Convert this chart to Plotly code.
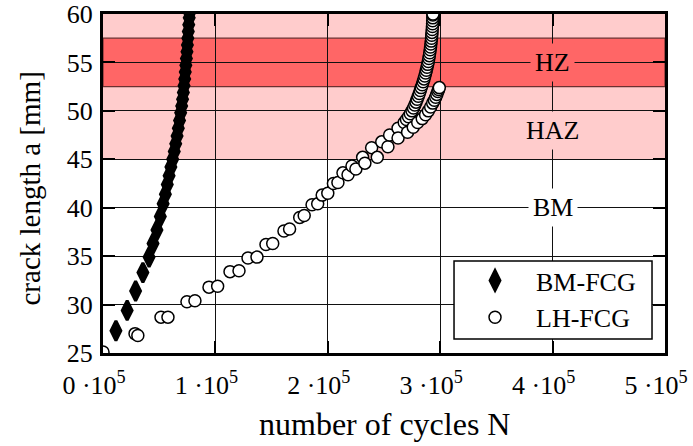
import plotly.graph_objects as go

# ---------------- data ----------------
bm_cycles = [11500, 21500, 29000, 35500, 41000, 44500, 48000, 51000, 53500, 55500,
             57200, 58800, 60400, 62000, 63400, 64700, 65900, 67000, 68100, 69100,
             70000, 70800, 71500, 72100, 72700, 73200, 73700, 74200, 74700, 75100,
             75500, 75900, 76300, 76700, 77000]
bm_crack = [27.3, 29.4, 31.4, 33.3, 34.9, 36.3, 37.7, 39.1, 40.4, 41.4,
            42.4, 43.3, 44.2, 45.0, 45.8, 46.6, 47.4, 48.2, 49.0, 49.8,
            50.5, 51.2, 51.9, 52.6, 53.3, 54.0, 54.7, 55.4, 56.1, 56.8,
            57.5, 58.2, 58.9, 59.6, 60.1]

lh_cycles = [0, 28500, 31000, 51600, 57800, 74700, 81800, 94300, 102000, 113000,
             121000, 129000, 137000, 145000, 151000, 161000, 166000, 175000, 179000, 186000,
             191000, 195000, 200000, 205000, 209000, 213500, 218000, 221500, 225000, 231000,
             233000, 239000, 244000, 248000, 253500, 255000, 262500, 262500,
             # upper branch (runs to 60 mm)
             268000, 270000, 271800, 273400, 274900, 276200, 277400, 278500, 279500, 280500,
             281400, 282300, 283100, 284000, 284800, 285600, 286300, 287000, 287700, 288300,
             288900, 289400, 289900, 290300, 290700, 291100, 291400, 291700, 292000, 292300,
             292500, 292700, 292900, 293100, 293200, 293300, 293400, 293500, 293600,
             # second branch (ends near 52.4 mm)
             271000, 276000, 280000, 284000, 287000, 289500, 291500, 293300, 294800, 296000,
             297000, 297900, 298600, 299200]
lh_crack = [25.1, 27.0, 26.8, 28.7, 28.7, 30.3, 30.4, 31.8, 31.9, 33.4,
            33.5, 34.8, 34.9, 36.2, 36.3, 37.6, 37.8, 39.0, 39.2, 40.3,
            40.4, 41.3, 41.5, 42.5, 42.6, 43.6, 43.4, 44.3, 44.0, 45.2,
            44.6, 46.2, 45.2, 46.8, 46.3, 47.5, 48.2, 47.2,
            48.8, 49.1, 49.4, 49.7, 50.0, 50.3, 50.6, 50.9, 51.2, 51.5,
            51.8, 52.1, 52.4, 52.7, 53.0, 53.3, 53.6, 53.9, 54.2, 54.5,
            54.8, 55.1, 55.4, 55.7, 56.0, 56.3, 56.6, 56.9, 57.2, 57.5,
            57.8, 58.1, 58.4, 58.7, 59.0, 59.3, 59.6, 59.9, 60.0,
            47.8, 48.3, 48.8, 49.2, 49.6, 50.0, 50.4, 50.8, 51.1, 51.4,
            51.7, 52.0, 52.2, 52.4]

x_tickvals = [0, 100000, 200000, 300000, 400000, 500000]
x_ticktext = ["0\u00a0·10<sup>5</sup>", "1\u00a0·10<sup>5</sup>", "2\u00a0·10<sup>5</sup>",
              "3\u00a0·10<sup>5</sup>", "4\u00a0·10<sup>5</sup>", "5\u00a0·10<sup>5</sup>"]
y_tickvals = [25, 30, 35, 40, 45, 50, 55, 60]

zone_names = ["HZ", "HAZ", "BM"]
zone_label_y = [55, 48, 40]
zone_label_x = 400000
haz_band = [45, 60]
hz_band = [52.5, 57.5]

FONT = "Liberation Serif"
LIGHT = "#FFCCCC"
RED = "#FF6666"

fig = go.Figure()

fig.add_trace(go.Scatter(
    x=bm_cycles, y=bm_crack, mode="markers", name="BM-FCG",
    marker=dict(symbol="diamond-tall", size=14, color="black",
                line=dict(color="black", width=3)),
))
fig.add_trace(go.Scatter(
    x=lh_cycles, y=lh_crack, mode="markers", name="LH-FCG",
    marker=dict(symbol="circle", size=12, color="white",
                line=dict(color="black", width=1.5)),
))

# zone bands
fig.add_shape(type="rect", xref="paper", yref="y", x0=0, x1=1,
              y0=haz_band[0], y1=haz_band[1], fillcolor=LIGHT,
              line=dict(width=0), layer="below")
fig.add_shape(type="rect", xref="paper", yref="y", x0=0, x1=1,
              y0=hz_band[0], y1=hz_band[1], fillcolor=RED,
              line=dict(color="#6b3030", width=1.2), layer="below")

# legend frame (white box with black border behind the legend entries)
fig.add_shape(type="rect", xref="paper", yref="paper",
              x0=0.6246, x1=0.9769, y0=0.0413, y1=0.2714,
              fillcolor="white", line=dict(color="black", width=1.5), layer="above")

bgs = [RED, LIGHT, "white"]
for name, yv, bg in zip(zone_names, zone_label_y, bgs):
    fig.add_annotation(x=zone_label_x, y=yv, xref="x", yref="y", text=name,
                       showarrow=False, bgcolor=bg, borderpad=4,
                       font=dict(family=FONT, size=26, color="black"))

# axis titles
fig.add_annotation(text="number of cycles N", xref="paper", yref="paper",
                   x=0.5, y=-0.21, xanchor="center", yanchor="middle",
                   showarrow=False, font=dict(family=FONT, size=32, color="black"))
fig.add_annotation(text="crack length a [mm]", xref="paper", yref="paper",
                   x=-0.13, y=0.485, xanchor="center", yanchor="middle", textangle=-90,
                   showarrow=False, font=dict(family=FONT, size=29, color="black"))

axis_common = dict(showline=True, linecolor="black", linewidth=3, mirror="allticks",
                   ticks="inside", ticklen=12, tickwidth=2, tickcolor="black",
                   showgrid=True, gridcolor="#111111", gridwidth=1, zeroline=False,
                   automargin=False, ticklabeloverflow="allow")

fig.update_xaxes(range=[0, 500000], tickvals=x_tickvals, ticktext=x_ticktext,
                 tickfont=dict(family=FONT, size=26, color="black"),
                 ticklabelstandoff=7, ticklabelshift=-9, **axis_common)
fig.update_yaxes(range=[25, 60], tickvals=y_tickvals,
                 tickfont=dict(family=FONT, size=26, color="black"),
                 ticklabelstandoff=2, **axis_common)

fig.update_layout(
    width=693, height=446,
    margin=dict(l=103, r=28, t=14, b=93),
    paper_bgcolor="white", plot_bgcolor="white",
    font=dict(family=FONT, color="black"),
    legend=dict(x=0.6246, y=0.283, xanchor="left", yanchor="top",
                bgcolor="rgba(0,0,0,0)", borderwidth=0,
                font=dict(family=FONT, size=26, color="black"),
                itemwidth=72),
)

fig.write_html("out.html")
